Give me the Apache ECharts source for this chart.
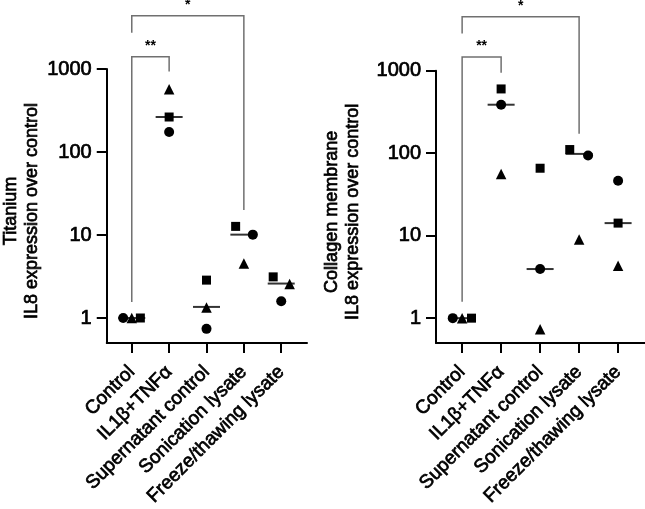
<!DOCTYPE html>
<html>
<head>
<meta charset="utf-8">
<script src="https://cdn.jsdelivr.net/npm/echarts@6/dist/echarts.min.js"></script>
<style>
  html, body { margin: 0; padding: 0; background: #fff; }
  #chart { width: 645px; height: 509px; }
</style>
</head>
<body>
<div id="chart"></div>
<script>
// ---------------- Data ----------------
const categories = ['Control', 'IL1β+TNFα', 'Supernatant control', 'Sonication lysate', 'Freeze/thawing lysate'];
const yTickValues = [1, 10, 100, 1000];
const yTickLabels = ['1', '10', '100', '1000'];

// Titanium panel
const tiCircle   = [1, 174, 0.74, 10.1, 1.59];
const tiSquare   = [1, 264, 2.86, 12.7, 3.13];
const tiTriangle = [1, 572, 1.34, 4.54, 2.56];
const tiMedian   = [1, 264, 1.36, 10.1, 2.6];

// Collagen membrane panel
const coCircle   = [1, 387, 3.94, 93.9, 46.4];
const coSquare   = [1, 601, 65.7, 110.7, 14.2];
const coTriangle = [1, 55.8, 0.733, 8.96, 4.32];
const coMedian   = [1, 387, 3.94, 98, 14.2];

// horizontal jitter of the symbols within a category (category units)
const tiCircleOff   = [-0.23, 0, 0, 0.24, 0];
const tiSquareOff   = [0.23, 0, 0, -0.22, -0.215];
const tiTriangleOff = [0, 0, 0, 0, 0.225];
const coCircleOff   = [-0.24, 0, 0, 0.23, 0];
const coSquareOff   = [0.24, 0, 0, -0.24, 0];
const coTriangleOff = [0, 0, 0, 0, 0];

// significance brackets: [fromCategory, toCategory, topValue, leftLegEndValue, rightLegEndValue]
const tiBrackets = [[0, 3, 4375, 2735, 20], [0, 1, 1409, 1.556, 930]];
const coBrackets = [[0, 3, 4516, 2833, 171.6], [0, 1, 1468, 1.58, 946]];
const bracketLabels = ['*', '**'];

// ---------------- Chart ----------------
const FONT = "'Liberation Sans', Arial, Helvetica, sans-serif";
const chart = echarts.init(document.getElementById('chart'), null, { renderer: 'canvas' });

function pts(vals, offs) { return vals.map((v, i) => [i + offs[i], v]); }
function med(vals) { return vals.map((v, i) => [i, v]); }

const textThick = { textBorderColor: '#000', textBorderWidth: 0.7 };

function xAxisFor(gridIndex) {
  return {
    type: 'value', gridIndex: gridIndex, min: -0.67, max: 4.69,
    axisLine: { show: true, onZero: false, lineStyle: { color: '#000', width: 2 } },
    axisTick: { show: true, customValues: [0, 1, 2, 3, 4], length: 10, lineStyle: { color: '#000', width: 2 } },
    axisLabel: Object.assign({
      show: true, customValues: [0, 1, 2, 3, 4], rotate: 45, margin: 26,
      formatter: v => categories[Math.round(v)],
      fontSize: 19, color: '#000', fontFamily: FONT
    }, textThick),
    splitLine: { show: false }
  };
}
function yAxisFor(gridIndex, name, gap) {
  return {
    type: 'log', logBase: 10, gridIndex: gridIndex, min: 0.5, max: 1000,
    name: name, nameLocation: 'middle', nameRotate: 90, nameGap: gap,
    nameTextStyle: Object.assign({ fontSize: 18, color: '#000', fontFamily: FONT, lineHeight: 21, padding: [0, 10, 0, 0] }, textThick),
    axisLine: { show: true, onZero: false, lineStyle: { color: '#000', width: 2 } },
    axisTick: { show: true, customValues: yTickValues, length: 10, lineStyle: { color: '#000', width: 2 } },
    axisLabel: Object.assign({
      show: true, customValues: yTickValues, margin: 15, fontSize: 20, color: '#000', fontFamily: FONT,
      formatter: v => yTickLabels[yTickValues.indexOf(Math.round(v))]
    }, textThick),
    splitLine: { show: false }, minorTick: { show: false }
  };
}
function scatter(idx, data, symbol, size) {
  return {
    type: 'scatter', xAxisIndex: idx, yAxisIndex: idx, data: data, symbol: symbol, symbolSize: size,
    itemStyle: { color: '#000', opacity: 1 }, silent: true, z: 3
  };
}
function medianSeries(idx, data) {
  return {
    type: 'scatter', xAxisIndex: idx, yAxisIndex: idx, data: data, symbol: 'rect', symbolSize: [27, 2],
    itemStyle: { color: '#000' }, silent: true, z: 2
  };
}
function bracketSeries(idx, data) {
  return {
    type: 'custom', xAxisIndex: idx, yAxisIndex: idx, data: data, clip: false, silent: true, z: 1,
    dimensions: ['x1', 'x2', 'yt', 'yl', 'yr'],
    encode: { x: [0, 1], y: [2, 3, 4] },
    renderItem: function (params, api) {
      const x1 = api.value(0), x2 = api.value(1), yt = api.value(2), yl = api.value(3), yr = api.value(4);
      const a = api.coord([x1, yl]), b = api.coord([x1, yt]), c = api.coord([x2, yt]), d = api.coord([x2, yr]);
      return {
        type: 'group',
        children: [
          { type: 'polyline', shape: { points: [a, b, c, d] }, style: { stroke: '#707070', lineWidth: 1.5, fill: null } },
          { type: 'text', style: { text: bracketLabels[params.dataIndex], x: (b[0] + c[0]) / 2, y: b[1] - 3.5,
              align: 'center', verticalAlign: 'bottom', font: 'bold 14px ' + FONT, fill: '#000' } }
        ]
      };
    }
  };
}

chart.setOption({
  animation: false,
  backgroundColor: '#fff',
  grid: [
    { left: 100, top: 69, width: 207, height: 275, containLabel: false },
    { left: 436, top: 70.7, width: 209, height: 277.6, containLabel: false }
  ],
  xAxis: [xAxisFor(0), xAxisFor(1)],
  yAxis: [
    yAxisFor(0, 'Titanium\nIL8 expression over control', 57),
    yAxisFor(1, 'Collagen membrane\nIL8 expression over control', 72)
  ],
  series: [
    bracketSeries(0, tiBrackets),
    medianSeries(0, med(tiMedian)),
    scatter(0, pts(tiCircle, tiCircleOff), 'circle', 10),
    scatter(0, pts(tiSquare, tiSquareOff), 'rect', 9),
    scatter(0, pts(tiTriangle, tiTriangleOff), 'triangle', 10.5),
    bracketSeries(1, coBrackets),
    medianSeries(1, med(coMedian)),
    scatter(1, pts(coCircle, coCircleOff), 'circle', 10),
    scatter(1, pts(coSquare, coSquareOff), 'rect', 9),
    scatter(1, pts(coTriangle, coTriangleOff), 'triangle', 10.5)
  ]
});
</script>
</body>
</html>
